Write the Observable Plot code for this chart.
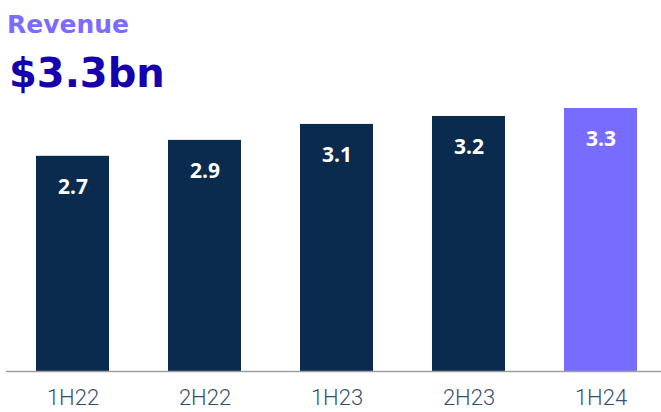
<!DOCTYPE html>
<html>
<head>
<meta charset="utf-8">
<script src="https://cdn.jsdelivr.net/npm/d3@7"></script>
<script src="https://cdn.jsdelivr.net/npm/@observablehq/plot@0.6"></script>
<style>
  html, body { margin: 0; padding: 0; background: #fff; }
  #wrap { position: relative; width: 661px; height: 412px; overflow: hidden; }
  #t1 { position: absolute; left: 7px; top: 12px; font-family: "DejaVu Sans"; font-weight: bold; font-size: 25px; color: #7b6cff; line-height: 1; margin: 0; }
  #t2 { position: absolute; left: 9px; top: 53px; font-family: "DejaVu Sans"; font-weight: bold; font-size: 40px; color: #1600ad; line-height: 1; margin: 0; }
  #chart { position: absolute; left: 0; top: 0; }
</style>
</head>
<body>
<div id="wrap">
  <div id="chart"></div>
  <div id="t1">Revenue</div>
  <div id="t2">$3.3bn</div>
</div>
<script>
const periods = ["1H22", "2H22", "1H23", "2H23", "1H24"];
const revenue = [2.7, 2.9, 3.1, 3.2, 3.3];
const labels = ["2.7", "2.9", "3.1", "3.2", "3.3"];
const highlight = [false, false, false, false, true];

const data = periods.map((p, i) => ({period: p, value: revenue[i], label: labels[i], hi: highlight[i]}));

const chart = Plot.plot({
  width: 661,
  height: 412,
  marginLeft: 6,
  marginRight: 0,
  marginTop: 108,
  marginBottom: 41,
  style: {background: "transparent", overflow: "visible"},
  x: {domain: periods, paddingInner: 0.448, paddingOuter: 0, insetLeft: 29, insetRight: 24, label: null},
  y: {domain: [0, d3.max(revenue)], axis: null},
  color: {domain: [false, true], range: ["#0a2a4e", "#786bff"]},
  marks: [
    Plot.barY(data, {x: "period", y: "value", fill: "hi"}),
    Plot.ruleY([0], {stroke: "#9e9e9e", strokeWidth: 1.5}),
    Plot.text(data, {x: "period", y: "value", text: "label", dy: 31, lineAnchor: "middle",
      fill: "white", fontSize: 21, fontWeight: "bold", fontFamily: "Open Sans"}),
    Plot.axisX({tickSize: 0, tickPadding: 18, fontSize: 22, fontFamily: "Roboto", fontWeight: 300, color: "#34506f"})
  ]
});
document.getElementById("chart").appendChild(chart);
</script>
</body>
</html>
